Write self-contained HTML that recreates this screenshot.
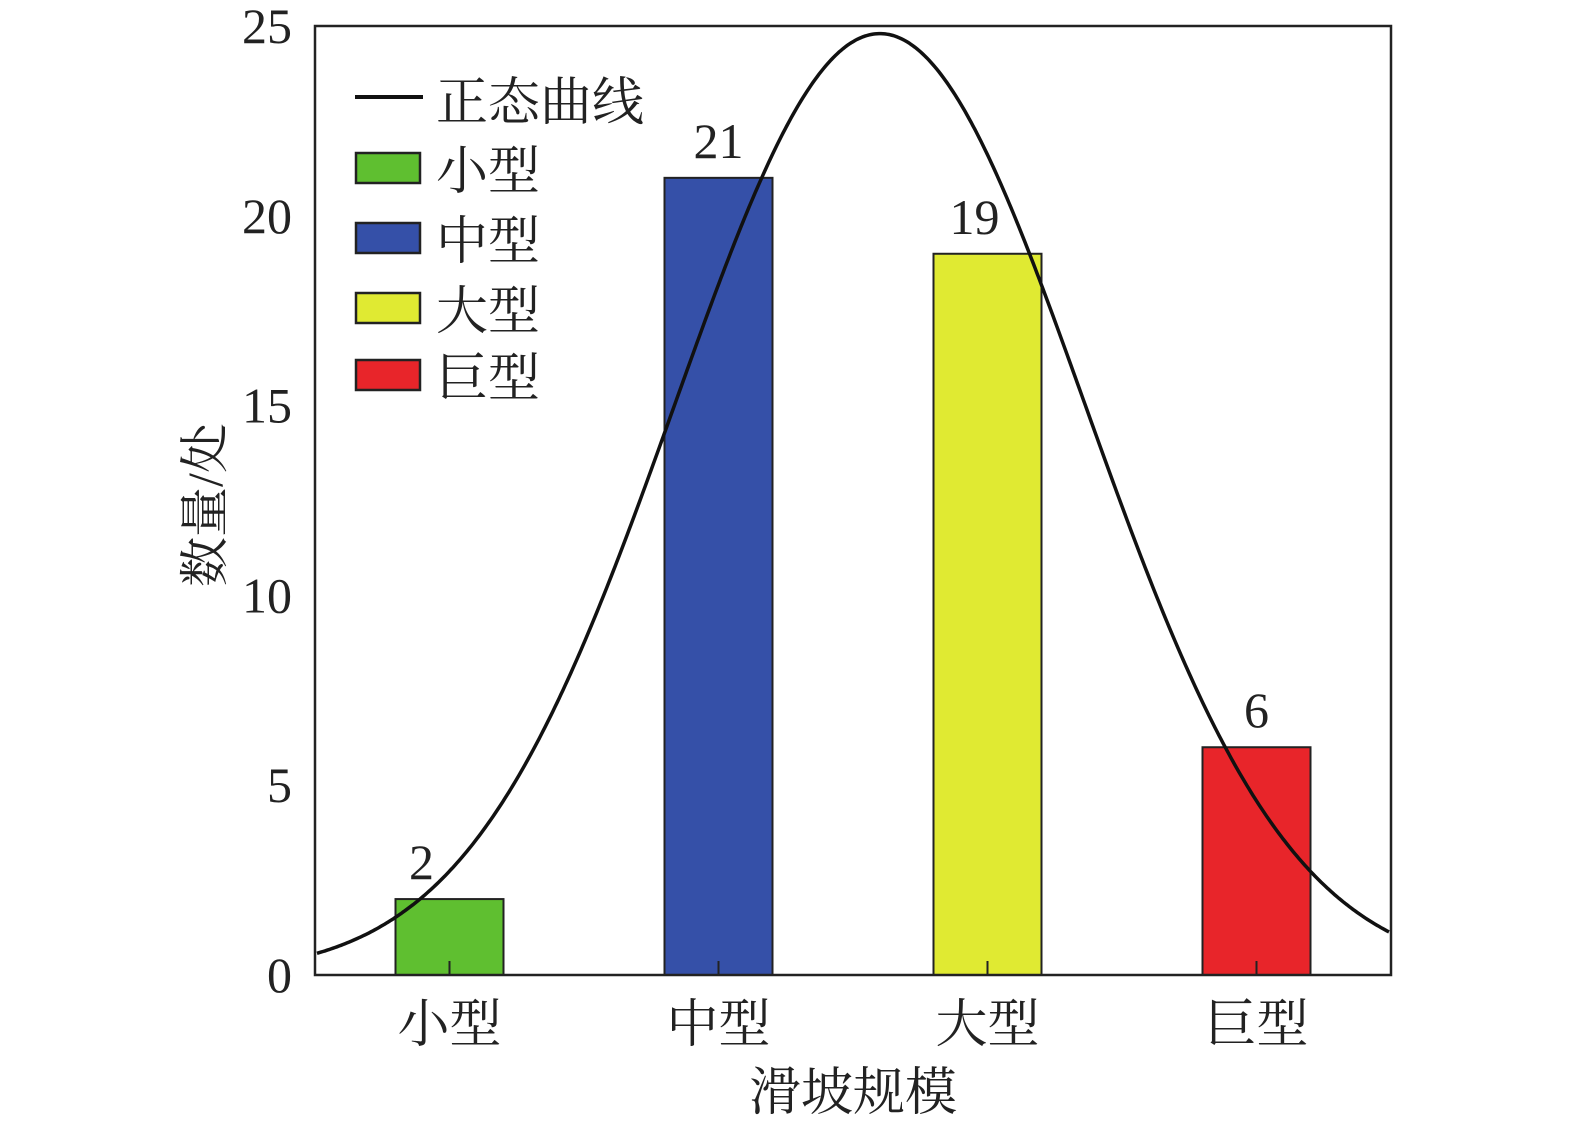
<!DOCTYPE html>
<html><head><meta charset="utf-8"><style>
html,body{margin:0;padding:0;background:#fff;}
svg{display:block;}
text{font-family:"Liberation Serif","Noto Serif CJK SC",serif;fill:#222;}
</style></head><body>
<svg id="chart" width="1575" height="1134" viewBox="0 0 1575 1134"></svg>
<script>
const categories = ["小型","中型","大型","巨型"];
const counts = [2,21,19,6];
const colors = ["#5fbf30","#3550a8","#e0ea32","#e8252a"];
const yTicks = [0,5,10,15,20,25];
const curveMean = 1.6;   // in category index units
const curveSd = 0.762;
const curvePeak = 24.8;

const L=315,R=1391,T=26,B=975;
const yMax=25;
const band=(R-L)/categories.length;
const xC=i=>L+band*(i+0.5);
const yS=v=>B-(v/yMax)*(B-T);
const NS="http://www.w3.org/2000/svg";
const svg=document.getElementById('chart');
function mk(tag,attrs,txt){const e=document.createElementNS(NS,tag);for(const k in attrs)e.setAttribute(k,attrs[k]);if(txt!==undefined)e.textContent=txt;svg.appendChild(e);return e;}

const bw=108;
categories.forEach((c,i)=>{
  const r=mk('rect',{x:xC(i)-bw/2,y:yS(counts[i]),width:bw,height:B-yS(counts[i]),fill:colors[i],stroke:'#222','stroke-width':2});
  
  
  const off = i===0?-28:(i===2?-13:0);
  const t=mk('text',{x:xC(i)+off,y:yS(counts[i])-20,'font-size':50,'text-anchor':'middle'},counts[i]);
  
  
  const tk=mk('line',{x1:xC(i),x2:xC(i),y1:B,y2:B-14,stroke:'#222','stroke-width':2});
  
  
  const xl=mk('text',{x:xC(i),y:1042,'font-size':52,'text-anchor':'middle'},c);
  
  
});

let d='';
for(let px=L+2;px<=R-2;px+=2){
  const xi=(px-L)/band-0.5;
  const v=curvePeak*Math.exp(-Math.pow(xi-curveMean,2)/(2*curveSd*curveSd));
  d+=(d?'L':'M')+px+','+yS(v).toFixed(1);
}
const cv=mk('path',{d:d,fill:'none',stroke:'#111','stroke-width':3.5});



const fr=mk('rect',{x:L,y:T,width:R-L,height:B-T,fill:'none',stroke:'#222','stroke-width':2.5});



yTicks.forEach(v=>{
  const t=mk('text',{x:292,y:yS(v)+17,'font-size':50,'text-anchor':'end'},v);
  
  
});

const yt=mk('text',{x:0,y:0,'font-size':50,'text-anchor':'middle',transform:'translate(222,505) rotate(-90)'},'数量/处');


const xt=mk('text',{x:853,y:1110,'font-size':52,'text-anchor':'middle'},'滑坡规模');



const ll=mk('line',{x1:355,x2:423,y1:97,y2:97,stroke:'#111','stroke-width':4});


const lt=mk('text',{x:436,y:120,'font-size':52},'正态曲线');


const rowsY=[168,238,308,375];
categories.forEach((c,i)=>{
  const s=mk('rect',{x:356,y:rowsY[i]-15,width:64,height:30,fill:colors[i],stroke:'#222','stroke-width':2.5});
  
  
  const t=mk('text',{x:436,y:rowsY[i]+21,'font-size':52},c);
  
  
});
</script>
</body></html>
